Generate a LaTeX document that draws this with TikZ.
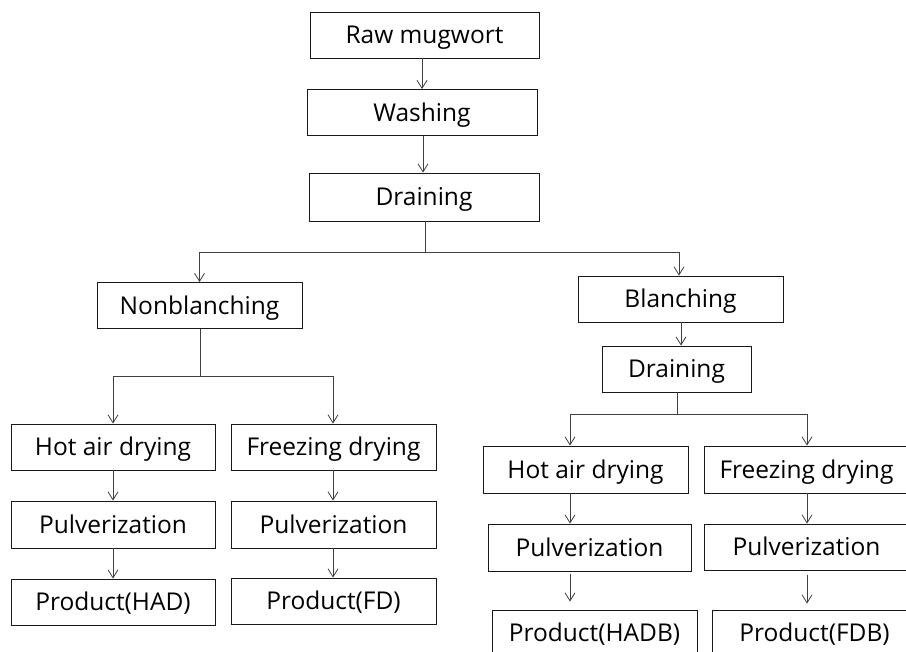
\documentclass[tikz,border=0pt]{standalone}
\usepackage{fontspec}
\setmainfont{Open Sans}
\usetikzlibrary{arrows.meta}
\begin{document}
\begin{tikzpicture}[x=1pt,y=-1pt,
  box/.style={draw=black!90,line width=0.9pt,inner sep=0pt,minimum height=46pt,
    font=\fontsize{24.5}{27}\selectfont,text=black,text height=17.4pt,text depth=0pt},
  arr/.style={draw=black!75,line width=0.8pt,-{Straight Barb[length=8pt,width=10pt]}},
  ln/.style={draw=black!75,line width=0.8pt}]
\useasboundingbox (0,0) rectangle (906,652);
\clip (0,0) rectangle (906,652);
% nodes
\node[box,minimum width=229pt] (raw)   at (424.5,35)   {Raw mugwort};
\node[box,minimum width=230pt] (wash)  at (422,112.5)  {Washing};
\node[box,minimum width=230pt,minimum height=48pt] (drain) at (424,197) {Draining};
\node[box,minimum width=205pt] (nonb)  at (199.5,305.5) {Nonblanching};
\node[box,minimum width=205pt] (blan)  at (680.5,299)   {Blanching};
\node[box,minimum width=149pt] (drainb) at (676.5,369)  {Draining};
\node[box,minimum width=204pt] (had)   at (113,447)     {Hot air drying};
\node[box,minimum width=205pt] (fd)    at (333.5,447)   {Freezing drying};
\node[box,minimum width=204pt,minimum height=47pt] (pulva) at (113,524.5) {Pulverization};
\node[box,minimum width=205pt,minimum height=47pt] (pulvb) at (333.5,524.5) {Pulverization};
\node[box,minimum width=204pt] (prodhad) at (113,602)   {Product(HAD)};
\node[box,minimum width=205pt] (prodfd)  at (333.5,601) {Product(FD)};
\node[box,minimum width=205pt,minimum height=47pt] (hadb) at (585.5,469.5) {Hot air drying};
\node[box,minimum width=205pt,minimum height=47pt] (fdb)  at (806.5,469.5) {Freezing drying};
\node[box,minimum width=203pt,minimum height=47pt] (pulvc) at (589.5,547.5) {Pulverization};
\node[box,minimum width=205pt,minimum height=46pt] (pulvd) at (806.5,547) {Pulverization};
\node[box,minimum width=205pt] (prodhadb) at (594.5,633) {Product(HADB)};
\node[box,minimum width=205pt] (prodfdb)  at (814.5,633) {Product(FDB)};
% helper coordinates
\coordinate (c1) at (422,0);
\coordinate (c2) at (423,0);
\coordinate (j1) at (425,252);
\coordinate (j2) at (200,376);
\coordinate (j3) at (677,414);
\coordinate (cb) at (681,0);
\coordinate (cl) at (113,0);
\coordinate (cr) at (333,0);
\coordinate (cc) at (570,0);
\coordinate (cd) at (807,0);
% connectors
\draw[arr] (raw.south -| c1) -- (wash.north -| c1);
\draw[arr] (wash.south -| c2) -- (drain.north -| c2);
\draw[ln] (drain.south -| j1) -- (j1);
\draw[arr] (j1) -| (nonb.north);
\draw[arr] (j1) -| ([xshift=-1.5pt]blan.north);
\draw[ln] (nonb.south -| j2) -- (j2);
\draw[arr] (j2) -| (had.north);
\draw[arr] (j2) -| (fd.north -| cr);
\draw[arr] (blan.south -| cb) -- (drainb.north -| cb);
\draw[ln] (drainb.south -| j3) -- (j3);
\draw[arr] (j3) -| (hadb.north -| cc);
\draw[arr] (j3) -| (fdb.north -| cd);
\draw[arr] (had.south) -- (pulva.north);
\draw[arr] (pulva.south) -- (prodhad.north);
\draw[arr] (fd.south -| cr) -- (pulvb.north -| cr);
\draw[arr] (pulvb.south -| cr) -- (prodfd.north -| cr);
\draw[arr] (hadb.south -| cc) -- (pulvc.north -| cc);
\draw[arr,shorten <=3pt,shorten >=8pt] (pulvc.south -| cc) -- (prodhadb.north -| cc);
\draw[arr] (fdb.south -| cd) -- (pulvd.north -| cd);
\draw[arr,shorten <=5pt,shorten >=6pt] (pulvd.south -| cd) -- (prodfdb.north -| cd);
\end{tikzpicture}
\end{document}
